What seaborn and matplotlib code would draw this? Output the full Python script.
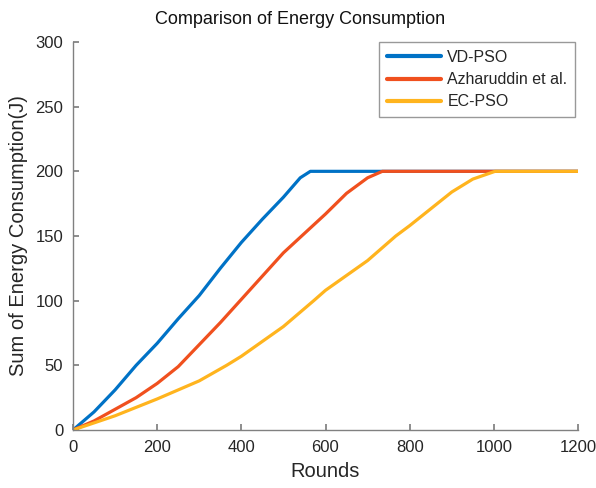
import numpy as np
import pandas as pd
import matplotlib.pyplot as plt
import seaborn as sns

# values (rounds -> cumulative energy in J)
vd_rounds = [0, 50, 100, 150, 200, 250, 300, 350, 400, 450, 500, 540, 564, 1200]
vd_energy = [0, 14, 31, 50, 67, 86, 104, 125, 145, 163, 180, 195, 200, 200]

az_rounds = [0, 50, 100, 150, 200, 250, 300, 350, 400, 450, 500, 550, 600, 650, 700, 735, 1200]
az_energy = [0, 7, 16, 25, 36, 49, 66, 83, 101, 119, 137, 152, 167, 183, 195, 200, 200]

ec_rounds = [0, 100, 200, 300, 365, 400, 500, 572, 600, 700, 767, 800, 900, 950, 1003, 1200]
ec_energy = [0, 11, 24, 38, 50, 57, 80, 100, 108, 131, 150, 158, 184, 194, 200, 200]

series_names = ['VD-PSO', 'Azharuddin et al.', 'EC-PSO']
colors = ['#0072C6', '#F0501E', '#FFB41E']

frames = []
for name, r, e in zip(series_names,
                      [vd_rounds, az_rounds, ec_rounds],
                      [vd_energy, az_energy, ec_energy]):
    frames.append(pd.DataFrame({'Rounds': r, 'Energy': e, 'Method': name}))
df = pd.concat(frames, ignore_index=True)

sns.set_theme(style='white')
plt.rcParams['font.family'] = ['Liberation Sans', 'DejaVu Sans']

fig = plt.figure(figsize=(5.96, 4.88), dpi=100)
ax = fig.add_axes([73 / 596, 58 / 488, 505 / 596, 388 / 488])

sns.lineplot(data=df, x='Rounds', y='Energy', hue='Method', palette=colors,
             hue_order=series_names, linewidth=2.3, ax=ax, sort=False,
             estimator=None)

ax.set_xlim(0, 1200)
ax.set_ylim(0, 300)
ax.set_xticks(range(0, 1201, 200))
ax.set_yticks(range(0, 301, 50))
ax.tick_params(direction='in', length=4, color='#808080', labelsize=12,
               labelcolor='#262626', pad=7, bottom=True, left=True)
for s in ['top', 'right']:
    ax.spines[s].set_visible(False)
for s in ['left', 'bottom']:
    ax.spines[s].set_color('#808080')
    ax.spines[s].set_linewidth(1.0)

ax.set_xlabel('Rounds', fontsize=14.5, color='#262626', labelpad=5)
ax.set_ylabel('Sum of Energy Consumption(J)', fontsize=14.5, color='#262626', labelpad=5)
fig.text(300 / 596, 1 - 20 / 488, 'Comparison of Energy Consumption', ha='center',
         va='center', fontsize=13, color='#111111')

leg = ax.legend(loc='upper right', bbox_to_anchor=(0.995, 1.0), frameon=True,
                fontsize=11.5, handlelength=3.4, handletextpad=0.4,
                borderaxespad=0.0, labelspacing=0.45, borderpad=0.5,
                fancybox=False)
leg.get_frame().set_edgecolor('#808080')
leg.get_frame().set_linewidth(1.0)
for line in leg.get_lines():
    line.set_linewidth(3)

fig.savefig('out.png', dpi=100)
